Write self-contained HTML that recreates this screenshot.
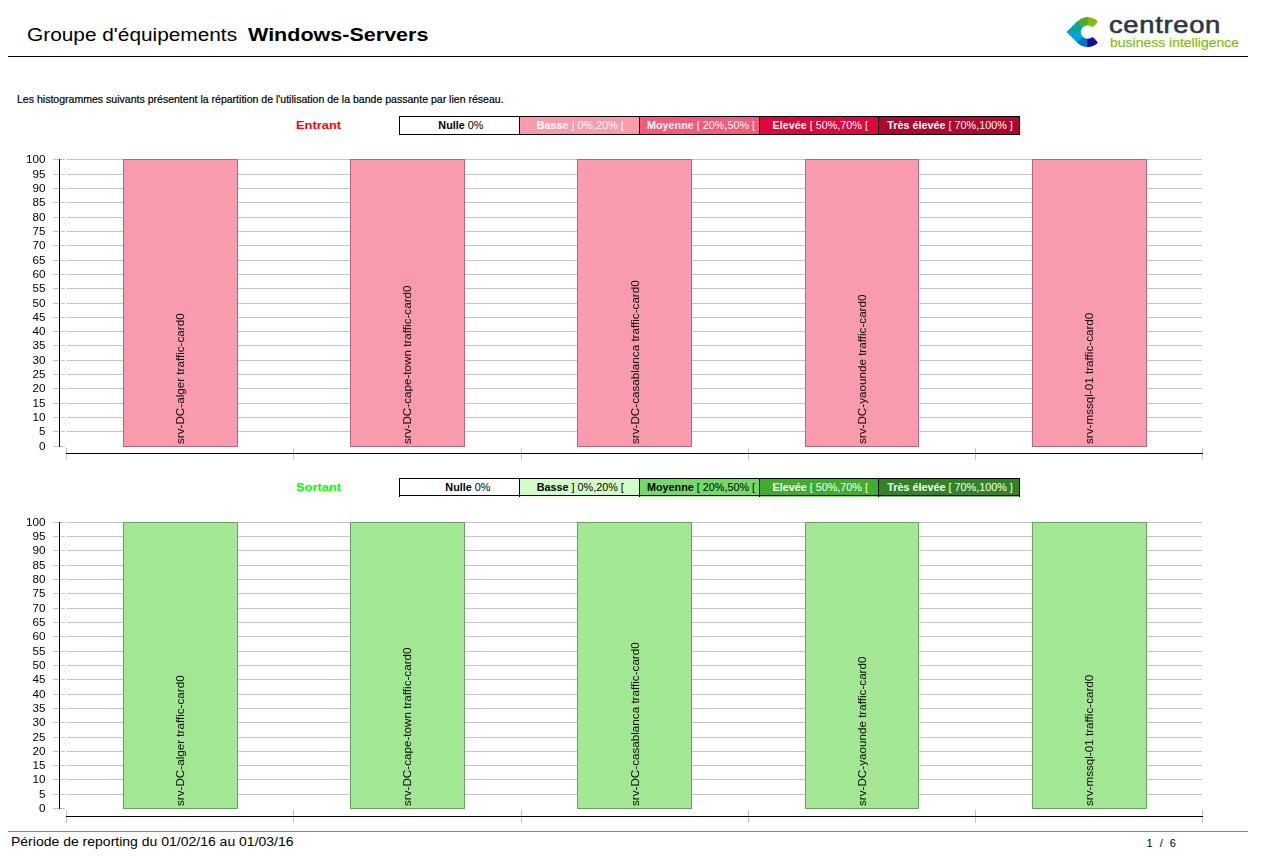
<!DOCTYPE html>
<html><head><meta charset="utf-8"><style>
html,body{margin:0;padding:0;background:#fff;}
body{width:1263px;height:863px;position:relative;overflow:hidden;font-family:"Liberation Sans", sans-serif;color:#000;}
</style></head><body>
<div style="position:absolute;left:26.5px;top:26.59px;font-size:17.5px;line-height:17.5px;font-weight:normal;color:#000;white-space:pre;transform:scaleX(1.19);transform-origin:0 0;">Groupe d'équipements</div>
<div style="position:absolute;left:248px;top:26.59px;font-size:17.5px;line-height:17.5px;font-weight:bold;color:#000;white-space:pre;transform:scaleX(1.23);transform-origin:0 0;">Windows-Servers</div>
<div style="position:absolute;left:8px;top:56px;width:1240px;height:1px;background:#000;"></div>
<svg style="position:absolute;left:0;top:0" width="1263" height="70"><path d="M1097.37,21.25 A14.6,14.6 0 0 0 1087.60,17.50 L1087.60,25.00 A7.1,7.1 0 0 1 1092.35,26.82 A11,11 0 0 0 1097.37,21.25 Z" fill="#84bd00" stroke="#84bd00" stroke-width="0.8" stroke-linejoin="round"/><path d="M1087.60,17.50 A14.6,14.6 0 0 0 1077.28,21.78 L1082.58,27.08 A7.1,7.1 0 0 1 1087.60,25.00 Z" fill="#4bae2a" stroke="#4bae2a" stroke-width="0.8" stroke-linejoin="round"/><path d="M1077.28,21.78 L1066.95,32.10 L1080.50,32.10 A7.1,7.1 0 0 1 1082.58,27.08 Z" fill="#0ea39b" stroke="#0ea39b" stroke-width="0.8" stroke-linejoin="round"/><path d="M1066.95,32.10 L1077.28,42.42 L1082.58,37.12 A7.1,7.1 0 0 1 1080.50,32.10 Z" fill="#03a2db" stroke="#03a2db" stroke-width="0.8" stroke-linejoin="round"/><path d="M1077.28,42.42 A14.6,14.6 0 0 0 1087.60,46.70 L1087.60,39.20 A7.1,7.1 0 0 1 1082.58,37.12 Z" fill="#0272cc" stroke="#0272cc" stroke-width="0.8" stroke-linejoin="round"/><path d="M1087.60,46.70 A14.6,14.6 0 0 0 1097.37,42.95 A11,11 0 0 0 1092.35,37.38 A7.1,7.1 0 0 1 1087.60,39.20 Z" fill="#160c9e" stroke="#160c9e" stroke-width="0.8" stroke-linejoin="round"/></svg>
<div style="position:absolute;left:1109.0px;top:12.95px;font-size:23.8px;line-height:23.8px;font-weight:normal;color:#2b3843;white-space:pre;transform:scaleX(1.15);transform-origin:0 0;-webkit-text-stroke:0.6px #2b3843;letter-spacing:0.6px;">centreon</div>
<div style="position:absolute;left:1109.5px;top:35.70px;font-size:13px;line-height:13px;font-weight:normal;color:#84bd00;white-space:pre;transform:scaleX(1.075);transform-origin:0 0;-webkit-text-stroke:0.15px #84bd00;">business intelligence</div>
<div style="position:absolute;left:16.6px;top:94.03px;font-size:10.6px;line-height:10.6px;font-weight:normal;color:#000;white-space:pre;transform:scaleX(0.995);transform-origin:0 0;-webkit-text-stroke:0.2px #000;">Les histogrammes suivants présentent la répartition de l'utilisation de la bande passante par lien réseau.</div>
<div style="position:absolute;left:295.5px;top:119.59px;font-size:11px;line-height:11px;font-weight:bold;color:#ff0000;white-space:pre;transform:scaleX(1.17);transform-origin:0 0;">Entrant</div>
<div style="position:absolute;left:400px;top:117px;width:119px;height:17px;background:#fff;"></div>
<div style="position:absolute;left:520px;top:117px;width:119px;height:17px;background:#f99bab;"></div>
<div style="position:absolute;left:640px;top:117px;width:119px;height:17px;background:#f45a7a;"></div>
<div style="position:absolute;left:760px;top:117px;width:118px;height:17px;background:#de063a;"></div>
<div style="position:absolute;left:879px;top:117px;width:140px;height:17px;background:#ae082e;"></div>
<div style="position:absolute;left:399px;top:116px;width:621px;height:1px;background:#000;"></div>
<div style="position:absolute;left:399px;top:134px;width:621px;height:1px;background:#000;"></div>
<div style="position:absolute;left:399px;top:116px;width:1px;height:19px;background:#000;"></div>
<div style="position:absolute;left:519px;top:116px;width:1px;height:19px;background:#000;"></div>
<div style="position:absolute;left:639px;top:116px;width:1px;height:19px;background:#000;"></div>
<div style="position:absolute;left:759px;top:116px;width:1px;height:19px;background:#000;"></div>
<div style="position:absolute;left:878px;top:116px;width:1px;height:19px;background:#000;"></div>
<div style="position:absolute;left:1019px;top:116px;width:1px;height:19px;background:#000;"></div>
<div style="position:absolute;left:400.3px;top:116px;width:121px;height:19px;line-height:19px;text-align:center;font-size:10px;color:#000;white-space:pre;"><span style="display:inline-block;transform:translateY(-0.1px) scaleX(1.08)"><b>Nulle</b> 0%</span></div>
<div style="position:absolute;left:520.3px;top:116px;width:121px;height:19px;line-height:19px;text-align:center;font-size:10px;color:#fff;white-space:pre;"><span style="display:inline-block;transform:translateY(-0.1px) scaleX(1.08)"><b>Basse</b> ] 0%,20% [</span></div>
<div style="position:absolute;left:640.3px;top:116px;width:121px;height:19px;line-height:19px;text-align:center;font-size:10px;color:#fff;white-space:pre;"><span style="display:inline-block;transform:translateY(-0.1px) scaleX(1.08)"><b>Moyenne</b> [ 20%,50% [</span></div>
<div style="position:absolute;left:760.3px;top:116px;width:120px;height:19px;line-height:19px;text-align:center;font-size:10px;color:#fff;white-space:pre;"><span style="display:inline-block;transform:translateY(-0.1px) scaleX(1.08)"><b>Elevée</b> [ 50%,70% [</span></div>
<div style="position:absolute;left:879.3px;top:116px;width:142px;height:19px;line-height:19px;text-align:center;font-size:10px;color:#fff;white-space:pre;"><span style="display:inline-block;transform:translateY(-0.1px) scaleX(1.08)"><b>Très élevée</b> [ 70%,100% ]</span></div>
<div style="position:absolute;left:53px;top:446px;width:12px;height:1px;background:#c4c4c4;"></div>
<div style="position:absolute;left:0;width:45.5px;top:439.9px;height:12px;line-height:12px;text-align:right;font-size:11px;white-space:pre;transform:scaleX(1.06);transform-origin:100% 50%;will-change:transform;">0</div>
<div style="position:absolute;left:53px;top:431px;width:12px;height:1px;background:#c4c4c4;"></div>
<div style="position:absolute;left:67px;top:431px;width:1135px;height:1px;background:#c4c4c4;"></div>
<div style="position:absolute;left:0;width:45.5px;top:424.9px;height:12px;line-height:12px;text-align:right;font-size:11px;white-space:pre;transform:scaleX(1.06);transform-origin:100% 50%;will-change:transform;">5</div>
<div style="position:absolute;left:53px;top:417px;width:12px;height:1px;background:#c4c4c4;"></div>
<div style="position:absolute;left:67px;top:417px;width:1135px;height:1px;background:#c4c4c4;"></div>
<div style="position:absolute;left:0;width:45.5px;top:410.9px;height:12px;line-height:12px;text-align:right;font-size:11px;white-space:pre;transform:scaleX(1.06);transform-origin:100% 50%;will-change:transform;">10</div>
<div style="position:absolute;left:53px;top:403px;width:12px;height:1px;background:#c4c4c4;"></div>
<div style="position:absolute;left:67px;top:403px;width:1135px;height:1px;background:#c4c4c4;"></div>
<div style="position:absolute;left:0;width:45.5px;top:396.9px;height:12px;line-height:12px;text-align:right;font-size:11px;white-space:pre;transform:scaleX(1.06);transform-origin:100% 50%;will-change:transform;">15</div>
<div style="position:absolute;left:53px;top:388px;width:12px;height:1px;background:#c4c4c4;"></div>
<div style="position:absolute;left:67px;top:388px;width:1135px;height:1px;background:#c4c4c4;"></div>
<div style="position:absolute;left:0;width:45.5px;top:381.9px;height:12px;line-height:12px;text-align:right;font-size:11px;white-space:pre;transform:scaleX(1.06);transform-origin:100% 50%;will-change:transform;">20</div>
<div style="position:absolute;left:53px;top:374px;width:12px;height:1px;background:#c4c4c4;"></div>
<div style="position:absolute;left:67px;top:374px;width:1135px;height:1px;background:#c4c4c4;"></div>
<div style="position:absolute;left:0;width:45.5px;top:367.9px;height:12px;line-height:12px;text-align:right;font-size:11px;white-space:pre;transform:scaleX(1.06);transform-origin:100% 50%;will-change:transform;">25</div>
<div style="position:absolute;left:53px;top:360px;width:12px;height:1px;background:#c4c4c4;"></div>
<div style="position:absolute;left:67px;top:360px;width:1135px;height:1px;background:#c4c4c4;"></div>
<div style="position:absolute;left:0;width:45.5px;top:353.9px;height:12px;line-height:12px;text-align:right;font-size:11px;white-space:pre;transform:scaleX(1.06);transform-origin:100% 50%;will-change:transform;">30</div>
<div style="position:absolute;left:53px;top:345px;width:12px;height:1px;background:#c4c4c4;"></div>
<div style="position:absolute;left:67px;top:345px;width:1135px;height:1px;background:#c4c4c4;"></div>
<div style="position:absolute;left:0;width:45.5px;top:338.9px;height:12px;line-height:12px;text-align:right;font-size:11px;white-space:pre;transform:scaleX(1.06);transform-origin:100% 50%;will-change:transform;">35</div>
<div style="position:absolute;left:53px;top:331px;width:12px;height:1px;background:#c4c4c4;"></div>
<div style="position:absolute;left:67px;top:331px;width:1135px;height:1px;background:#c4c4c4;"></div>
<div style="position:absolute;left:0;width:45.5px;top:324.9px;height:12px;line-height:12px;text-align:right;font-size:11px;white-space:pre;transform:scaleX(1.06);transform-origin:100% 50%;will-change:transform;">40</div>
<div style="position:absolute;left:53px;top:317px;width:12px;height:1px;background:#c4c4c4;"></div>
<div style="position:absolute;left:67px;top:317px;width:1135px;height:1px;background:#c4c4c4;"></div>
<div style="position:absolute;left:0;width:45.5px;top:310.9px;height:12px;line-height:12px;text-align:right;font-size:11px;white-space:pre;transform:scaleX(1.06);transform-origin:100% 50%;will-change:transform;">45</div>
<div style="position:absolute;left:53px;top:303px;width:12px;height:1px;background:#c4c4c4;"></div>
<div style="position:absolute;left:67px;top:303px;width:1135px;height:1px;background:#c4c4c4;"></div>
<div style="position:absolute;left:0;width:45.5px;top:296.9px;height:12px;line-height:12px;text-align:right;font-size:11px;white-space:pre;transform:scaleX(1.06);transform-origin:100% 50%;will-change:transform;">50</div>
<div style="position:absolute;left:53px;top:288px;width:12px;height:1px;background:#c4c4c4;"></div>
<div style="position:absolute;left:67px;top:288px;width:1135px;height:1px;background:#c4c4c4;"></div>
<div style="position:absolute;left:0;width:45.5px;top:281.9px;height:12px;line-height:12px;text-align:right;font-size:11px;white-space:pre;transform:scaleX(1.06);transform-origin:100% 50%;will-change:transform;">55</div>
<div style="position:absolute;left:53px;top:274px;width:12px;height:1px;background:#c4c4c4;"></div>
<div style="position:absolute;left:67px;top:274px;width:1135px;height:1px;background:#c4c4c4;"></div>
<div style="position:absolute;left:0;width:45.5px;top:267.9px;height:12px;line-height:12px;text-align:right;font-size:11px;white-space:pre;transform:scaleX(1.06);transform-origin:100% 50%;will-change:transform;">60</div>
<div style="position:absolute;left:53px;top:260px;width:12px;height:1px;background:#c4c4c4;"></div>
<div style="position:absolute;left:67px;top:260px;width:1135px;height:1px;background:#c4c4c4;"></div>
<div style="position:absolute;left:0;width:45.5px;top:253.9px;height:12px;line-height:12px;text-align:right;font-size:11px;white-space:pre;transform:scaleX(1.06);transform-origin:100% 50%;will-change:transform;">65</div>
<div style="position:absolute;left:53px;top:245px;width:12px;height:1px;background:#c4c4c4;"></div>
<div style="position:absolute;left:67px;top:245px;width:1135px;height:1px;background:#c4c4c4;"></div>
<div style="position:absolute;left:0;width:45.5px;top:238.9px;height:12px;line-height:12px;text-align:right;font-size:11px;white-space:pre;transform:scaleX(1.06);transform-origin:100% 50%;will-change:transform;">70</div>
<div style="position:absolute;left:53px;top:231px;width:12px;height:1px;background:#c4c4c4;"></div>
<div style="position:absolute;left:67px;top:231px;width:1135px;height:1px;background:#c4c4c4;"></div>
<div style="position:absolute;left:0;width:45.5px;top:224.9px;height:12px;line-height:12px;text-align:right;font-size:11px;white-space:pre;transform:scaleX(1.06);transform-origin:100% 50%;will-change:transform;">75</div>
<div style="position:absolute;left:53px;top:217px;width:12px;height:1px;background:#c4c4c4;"></div>
<div style="position:absolute;left:67px;top:217px;width:1135px;height:1px;background:#c4c4c4;"></div>
<div style="position:absolute;left:0;width:45.5px;top:210.9px;height:12px;line-height:12px;text-align:right;font-size:11px;white-space:pre;transform:scaleX(1.06);transform-origin:100% 50%;will-change:transform;">80</div>
<div style="position:absolute;left:53px;top:202px;width:12px;height:1px;background:#c4c4c4;"></div>
<div style="position:absolute;left:67px;top:202px;width:1135px;height:1px;background:#c4c4c4;"></div>
<div style="position:absolute;left:0;width:45.5px;top:195.9px;height:12px;line-height:12px;text-align:right;font-size:11px;white-space:pre;transform:scaleX(1.06);transform-origin:100% 50%;will-change:transform;">85</div>
<div style="position:absolute;left:53px;top:188px;width:12px;height:1px;background:#c4c4c4;"></div>
<div style="position:absolute;left:67px;top:188px;width:1135px;height:1px;background:#c4c4c4;"></div>
<div style="position:absolute;left:0;width:45.5px;top:181.9px;height:12px;line-height:12px;text-align:right;font-size:11px;white-space:pre;transform:scaleX(1.06);transform-origin:100% 50%;will-change:transform;">90</div>
<div style="position:absolute;left:53px;top:174px;width:12px;height:1px;background:#c4c4c4;"></div>
<div style="position:absolute;left:67px;top:174px;width:1135px;height:1px;background:#c4c4c4;"></div>
<div style="position:absolute;left:0;width:45.5px;top:167.9px;height:12px;line-height:12px;text-align:right;font-size:11px;white-space:pre;transform:scaleX(1.06);transform-origin:100% 50%;will-change:transform;">95</div>
<div style="position:absolute;left:53px;top:159px;width:12px;height:1px;background:#c4c4c4;"></div>
<div style="position:absolute;left:67px;top:159px;width:1135px;height:1px;background:#c4c4c4;"></div>
<div style="position:absolute;left:0;width:45.5px;top:152.9px;height:12px;line-height:12px;text-align:right;font-size:11px;white-space:pre;transform:scaleX(1.06);transform-origin:100% 50%;will-change:transform;">100</div>
<div style="position:absolute;left:59px;top:159px;width:1px;height:288px;background:#000;"></div>
<div style="position:absolute;left:66px;top:453px;width:1137px;height:1px;background:#000;"></div>
<div style="position:absolute;left:66px;top:448px;width:1px;height:12px;background:#c4c4c4;"></div>
<div style="position:absolute;left:293px;top:448px;width:1px;height:12px;background:#c4c4c4;"></div>
<div style="position:absolute;left:521px;top:448px;width:1px;height:12px;background:#c4c4c4;"></div>
<div style="position:absolute;left:748px;top:448px;width:1px;height:12px;background:#c4c4c4;"></div>
<div style="position:absolute;left:975px;top:448px;width:1px;height:12px;background:#c4c4c4;"></div>
<div style="position:absolute;left:1202px;top:448px;width:1px;height:12px;background:#c4c4c4;"></div>
<div style="position:absolute;left:66px;top:453px;width:1137px;height:1px;background:#000;"></div>
<div style="position:absolute;left:123px;top:159px;width:113px;height:286px;background:#f99baf;border:1px solid #b06a7a;"></div>
<div style="position:absolute;left:185.1px;top:443.8px;font-size:11px;line-height:11px;white-space:pre;will-change:transform;transform-origin:0 0;transform:rotate(-90deg) scaleX(1.06) translateY(-9.95px);">srv-DC-alger traffic-card0</div>
<div style="position:absolute;left:350px;top:159px;width:113px;height:286px;background:#f99baf;border:1px solid #b06a7a;"></div>
<div style="position:absolute;left:412.3px;top:443.8px;font-size:11px;line-height:11px;white-space:pre;will-change:transform;transform-origin:0 0;transform:rotate(-90deg) scaleX(1.06) translateY(-9.95px);">srv-DC-cape-town traffic-card0</div>
<div style="position:absolute;left:577px;top:159px;width:113px;height:286px;background:#f99baf;border:1px solid #b06a7a;"></div>
<div style="position:absolute;left:639.5px;top:443.8px;font-size:11px;line-height:11px;white-space:pre;will-change:transform;transform-origin:0 0;transform:rotate(-90deg) scaleX(1.06) translateY(-9.95px);">srv-DC-casablanca traffic-card0</div>
<div style="position:absolute;left:805px;top:159px;width:112px;height:286px;background:#f99baf;border:1px solid #b06a7a;"></div>
<div style="position:absolute;left:866.7px;top:443.8px;font-size:11px;line-height:11px;white-space:pre;will-change:transform;transform-origin:0 0;transform:rotate(-90deg) scaleX(1.06) translateY(-9.95px);">srv-DC-yaounde traffic-card0</div>
<div style="position:absolute;left:1032px;top:159px;width:113px;height:286px;background:#f99baf;border:1px solid #b06a7a;"></div>
<div style="position:absolute;left:1093.9px;top:443.8px;font-size:11px;line-height:11px;white-space:pre;will-change:transform;transform-origin:0 0;transform:rotate(-90deg) scaleX(1.06) translateY(-9.95px);">srv-mssql-01 traffic-card0</div>
<div style="position:absolute;left:295.5px;top:481.59px;font-size:11px;line-height:11px;font-weight:bold;color:#00ff00;white-space:pre;transform:scaleX(1.17);transform-origin:0 0;">Sortant</div>
<div style="position:absolute;left:400px;top:479px;width:119px;height:16px;background:#fff;"></div>
<div style="position:absolute;left:520px;top:479px;width:119px;height:16px;background:#d2fbc8;"></div>
<div style="position:absolute;left:640px;top:479px;width:119px;height:16px;background:#73db65;"></div>
<div style="position:absolute;left:760px;top:479px;width:118px;height:16px;background:#40ae2a;"></div>
<div style="position:absolute;left:879px;top:479px;width:140px;height:16px;background:#2f8523;"></div>
<div style="position:absolute;left:400px;top:496px;width:119px;height:1px;background:#fff;opacity:0.55;"></div>
<div style="position:absolute;left:520px;top:496px;width:119px;height:1px;background:#d2fbc8;opacity:0.55;"></div>
<div style="position:absolute;left:640px;top:496px;width:119px;height:1px;background:#73db65;opacity:0.55;"></div>
<div style="position:absolute;left:760px;top:496px;width:118px;height:1px;background:#40ae2a;opacity:0.55;"></div>
<div style="position:absolute;left:879px;top:496px;width:140px;height:1px;background:#2f8523;opacity:0.55;"></div>
<div style="position:absolute;left:399px;top:478px;width:621px;height:1px;background:#000;"></div>
<div style="position:absolute;left:399px;top:495px;width:621px;height:1px;background:#000;"></div>
<div style="position:absolute;left:399px;top:478px;width:1px;height:19px;background:#000;"></div>
<div style="position:absolute;left:519px;top:478px;width:1px;height:19px;background:#000;"></div>
<div style="position:absolute;left:639px;top:478px;width:1px;height:19px;background:#000;"></div>
<div style="position:absolute;left:759px;top:478px;width:1px;height:19px;background:#000;"></div>
<div style="position:absolute;left:878px;top:478px;width:1px;height:19px;background:#000;"></div>
<div style="position:absolute;left:1019px;top:478px;width:1px;height:19px;background:#000;"></div>
<div style="position:absolute;left:407.3px;top:478px;width:121px;height:19px;line-height:19px;text-align:center;font-size:10px;color:#000;white-space:pre;"><span style="display:inline-block;transform:translateY(-0.1px) scaleX(1.08)"><b>Nulle</b> 0%</span></div>
<div style="position:absolute;left:520.3px;top:478px;width:121px;height:19px;line-height:19px;text-align:center;font-size:10px;color:#000;white-space:pre;"><span style="display:inline-block;transform:translateY(-0.1px) scaleX(1.08)"><b>Basse</b> ] 0%,20% [</span></div>
<div style="position:absolute;left:640.3px;top:478px;width:121px;height:19px;line-height:19px;text-align:center;font-size:10px;color:#000;white-space:pre;"><span style="display:inline-block;transform:translateY(-0.1px) scaleX(1.08)"><b>Moyenne</b> [ 20%,50% [</span></div>
<div style="position:absolute;left:760.3px;top:478px;width:120px;height:19px;line-height:19px;text-align:center;font-size:10px;color:#fff;white-space:pre;"><span style="display:inline-block;transform:translateY(-0.1px) scaleX(1.08)"><b>Elevée</b> [ 50%,70% [</span></div>
<div style="position:absolute;left:879.3px;top:478px;width:142px;height:19px;line-height:19px;text-align:center;font-size:10px;color:#fff;white-space:pre;"><span style="display:inline-block;transform:translateY(-0.1px) scaleX(1.08)"><b>Très élevée</b> [ 70%,100% ]</span></div>
<div style="position:absolute;left:53px;top:808px;width:12px;height:1px;background:#c4c4c4;"></div>
<div style="position:absolute;left:0;width:45.5px;top:801.9px;height:12px;line-height:12px;text-align:right;font-size:11px;white-space:pre;transform:scaleX(1.06);transform-origin:100% 50%;will-change:transform;">0</div>
<div style="position:absolute;left:53px;top:794px;width:12px;height:1px;background:#c4c4c4;"></div>
<div style="position:absolute;left:67px;top:794px;width:1135px;height:1px;background:#c4c4c4;"></div>
<div style="position:absolute;left:0;width:45.5px;top:787.9px;height:12px;line-height:12px;text-align:right;font-size:11px;white-space:pre;transform:scaleX(1.06);transform-origin:100% 50%;will-change:transform;">5</div>
<div style="position:absolute;left:53px;top:779px;width:12px;height:1px;background:#c4c4c4;"></div>
<div style="position:absolute;left:67px;top:779px;width:1135px;height:1px;background:#c4c4c4;"></div>
<div style="position:absolute;left:0;width:45.5px;top:772.9px;height:12px;line-height:12px;text-align:right;font-size:11px;white-space:pre;transform:scaleX(1.06);transform-origin:100% 50%;will-change:transform;">10</div>
<div style="position:absolute;left:53px;top:765px;width:12px;height:1px;background:#c4c4c4;"></div>
<div style="position:absolute;left:67px;top:765px;width:1135px;height:1px;background:#c4c4c4;"></div>
<div style="position:absolute;left:0;width:45.5px;top:758.9px;height:12px;line-height:12px;text-align:right;font-size:11px;white-space:pre;transform:scaleX(1.06);transform-origin:100% 50%;will-change:transform;">15</div>
<div style="position:absolute;left:53px;top:751px;width:12px;height:1px;background:#c4c4c4;"></div>
<div style="position:absolute;left:67px;top:751px;width:1135px;height:1px;background:#c4c4c4;"></div>
<div style="position:absolute;left:0;width:45.5px;top:744.9px;height:12px;line-height:12px;text-align:right;font-size:11px;white-space:pre;transform:scaleX(1.06);transform-origin:100% 50%;will-change:transform;">20</div>
<div style="position:absolute;left:53px;top:737px;width:12px;height:1px;background:#c4c4c4;"></div>
<div style="position:absolute;left:67px;top:737px;width:1135px;height:1px;background:#c4c4c4;"></div>
<div style="position:absolute;left:0;width:45.5px;top:730.9px;height:12px;line-height:12px;text-align:right;font-size:11px;white-space:pre;transform:scaleX(1.06);transform-origin:100% 50%;will-change:transform;">25</div>
<div style="position:absolute;left:53px;top:722px;width:12px;height:1px;background:#c4c4c4;"></div>
<div style="position:absolute;left:67px;top:722px;width:1135px;height:1px;background:#c4c4c4;"></div>
<div style="position:absolute;left:0;width:45.5px;top:715.9px;height:12px;line-height:12px;text-align:right;font-size:11px;white-space:pre;transform:scaleX(1.06);transform-origin:100% 50%;will-change:transform;">30</div>
<div style="position:absolute;left:53px;top:708px;width:12px;height:1px;background:#c4c4c4;"></div>
<div style="position:absolute;left:67px;top:708px;width:1135px;height:1px;background:#c4c4c4;"></div>
<div style="position:absolute;left:0;width:45.5px;top:701.9px;height:12px;line-height:12px;text-align:right;font-size:11px;white-space:pre;transform:scaleX(1.06);transform-origin:100% 50%;will-change:transform;">35</div>
<div style="position:absolute;left:53px;top:694px;width:12px;height:1px;background:#c4c4c4;"></div>
<div style="position:absolute;left:67px;top:694px;width:1135px;height:1px;background:#c4c4c4;"></div>
<div style="position:absolute;left:0;width:45.5px;top:687.9px;height:12px;line-height:12px;text-align:right;font-size:11px;white-space:pre;transform:scaleX(1.06);transform-origin:100% 50%;will-change:transform;">40</div>
<div style="position:absolute;left:53px;top:679px;width:12px;height:1px;background:#c4c4c4;"></div>
<div style="position:absolute;left:67px;top:679px;width:1135px;height:1px;background:#c4c4c4;"></div>
<div style="position:absolute;left:0;width:45.5px;top:672.9px;height:12px;line-height:12px;text-align:right;font-size:11px;white-space:pre;transform:scaleX(1.06);transform-origin:100% 50%;will-change:transform;">45</div>
<div style="position:absolute;left:53px;top:665px;width:12px;height:1px;background:#c4c4c4;"></div>
<div style="position:absolute;left:67px;top:665px;width:1135px;height:1px;background:#c4c4c4;"></div>
<div style="position:absolute;left:0;width:45.5px;top:658.9px;height:12px;line-height:12px;text-align:right;font-size:11px;white-space:pre;transform:scaleX(1.06);transform-origin:100% 50%;will-change:transform;">50</div>
<div style="position:absolute;left:53px;top:651px;width:12px;height:1px;background:#c4c4c4;"></div>
<div style="position:absolute;left:67px;top:651px;width:1135px;height:1px;background:#c4c4c4;"></div>
<div style="position:absolute;left:0;width:45.5px;top:644.9px;height:12px;line-height:12px;text-align:right;font-size:11px;white-space:pre;transform:scaleX(1.06);transform-origin:100% 50%;will-change:transform;">55</div>
<div style="position:absolute;left:53px;top:636px;width:12px;height:1px;background:#c4c4c4;"></div>
<div style="position:absolute;left:67px;top:636px;width:1135px;height:1px;background:#c4c4c4;"></div>
<div style="position:absolute;left:0;width:45.5px;top:629.9px;height:12px;line-height:12px;text-align:right;font-size:11px;white-space:pre;transform:scaleX(1.06);transform-origin:100% 50%;will-change:transform;">60</div>
<div style="position:absolute;left:53px;top:622px;width:12px;height:1px;background:#c4c4c4;"></div>
<div style="position:absolute;left:67px;top:622px;width:1135px;height:1px;background:#c4c4c4;"></div>
<div style="position:absolute;left:0;width:45.5px;top:615.9px;height:12px;line-height:12px;text-align:right;font-size:11px;white-space:pre;transform:scaleX(1.06);transform-origin:100% 50%;will-change:transform;">65</div>
<div style="position:absolute;left:53px;top:608px;width:12px;height:1px;background:#c4c4c4;"></div>
<div style="position:absolute;left:67px;top:608px;width:1135px;height:1px;background:#c4c4c4;"></div>
<div style="position:absolute;left:0;width:45.5px;top:601.9px;height:12px;line-height:12px;text-align:right;font-size:11px;white-space:pre;transform:scaleX(1.06);transform-origin:100% 50%;will-change:transform;">70</div>
<div style="position:absolute;left:53px;top:593px;width:12px;height:1px;background:#c4c4c4;"></div>
<div style="position:absolute;left:67px;top:593px;width:1135px;height:1px;background:#c4c4c4;"></div>
<div style="position:absolute;left:0;width:45.5px;top:586.9px;height:12px;line-height:12px;text-align:right;font-size:11px;white-space:pre;transform:scaleX(1.06);transform-origin:100% 50%;will-change:transform;">75</div>
<div style="position:absolute;left:53px;top:579px;width:12px;height:1px;background:#c4c4c4;"></div>
<div style="position:absolute;left:67px;top:579px;width:1135px;height:1px;background:#c4c4c4;"></div>
<div style="position:absolute;left:0;width:45.5px;top:572.9px;height:12px;line-height:12px;text-align:right;font-size:11px;white-space:pre;transform:scaleX(1.06);transform-origin:100% 50%;will-change:transform;">80</div>
<div style="position:absolute;left:53px;top:565px;width:12px;height:1px;background:#c4c4c4;"></div>
<div style="position:absolute;left:67px;top:565px;width:1135px;height:1px;background:#c4c4c4;"></div>
<div style="position:absolute;left:0;width:45.5px;top:558.9px;height:12px;line-height:12px;text-align:right;font-size:11px;white-space:pre;transform:scaleX(1.06);transform-origin:100% 50%;will-change:transform;">85</div>
<div style="position:absolute;left:53px;top:550px;width:12px;height:1px;background:#c4c4c4;"></div>
<div style="position:absolute;left:67px;top:550px;width:1135px;height:1px;background:#c4c4c4;"></div>
<div style="position:absolute;left:0;width:45.5px;top:543.9px;height:12px;line-height:12px;text-align:right;font-size:11px;white-space:pre;transform:scaleX(1.06);transform-origin:100% 50%;will-change:transform;">90</div>
<div style="position:absolute;left:53px;top:536px;width:12px;height:1px;background:#c4c4c4;"></div>
<div style="position:absolute;left:67px;top:536px;width:1135px;height:1px;background:#c4c4c4;"></div>
<div style="position:absolute;left:0;width:45.5px;top:529.9px;height:12px;line-height:12px;text-align:right;font-size:11px;white-space:pre;transform:scaleX(1.06);transform-origin:100% 50%;will-change:transform;">95</div>
<div style="position:absolute;left:53px;top:522px;width:12px;height:1px;background:#c4c4c4;"></div>
<div style="position:absolute;left:67px;top:522px;width:1135px;height:1px;background:#c4c4c4;"></div>
<div style="position:absolute;left:0;width:45.5px;top:515.9px;height:12px;line-height:12px;text-align:right;font-size:11px;white-space:pre;transform:scaleX(1.06);transform-origin:100% 50%;will-change:transform;">100</div>
<div style="position:absolute;left:59px;top:522px;width:1px;height:287px;background:#000;"></div>
<div style="position:absolute;left:66px;top:816px;width:1137px;height:1px;background:#000;"></div>
<div style="position:absolute;left:66px;top:810px;width:1px;height:13px;background:#c4c4c4;"></div>
<div style="position:absolute;left:293px;top:810px;width:1px;height:13px;background:#c4c4c4;"></div>
<div style="position:absolute;left:521px;top:810px;width:1px;height:13px;background:#c4c4c4;"></div>
<div style="position:absolute;left:748px;top:810px;width:1px;height:13px;background:#c4c4c4;"></div>
<div style="position:absolute;left:975px;top:810px;width:1px;height:13px;background:#c4c4c4;"></div>
<div style="position:absolute;left:1202px;top:810px;width:1px;height:13px;background:#c4c4c4;"></div>
<div style="position:absolute;left:66px;top:816px;width:1137px;height:1px;background:#000;"></div>
<div style="position:absolute;left:123px;top:522px;width:113px;height:285px;background:#a3e694;border:1px solid #6aa062;"></div>
<div style="position:absolute;left:185.1px;top:805.8px;font-size:11px;line-height:11px;white-space:pre;will-change:transform;transform-origin:0 0;transform:rotate(-90deg) scaleX(1.06) translateY(-9.95px);">srv-DC-alger traffic-card0</div>
<div style="position:absolute;left:350px;top:522px;width:113px;height:285px;background:#a3e694;border:1px solid #6aa062;"></div>
<div style="position:absolute;left:412.3px;top:805.8px;font-size:11px;line-height:11px;white-space:pre;will-change:transform;transform-origin:0 0;transform:rotate(-90deg) scaleX(1.06) translateY(-9.95px);">srv-DC-cape-town traffic-card0</div>
<div style="position:absolute;left:577px;top:522px;width:113px;height:285px;background:#a3e694;border:1px solid #6aa062;"></div>
<div style="position:absolute;left:639.5px;top:805.8px;font-size:11px;line-height:11px;white-space:pre;will-change:transform;transform-origin:0 0;transform:rotate(-90deg) scaleX(1.06) translateY(-9.95px);">srv-DC-casablanca traffic-card0</div>
<div style="position:absolute;left:805px;top:522px;width:112px;height:285px;background:#a3e694;border:1px solid #6aa062;"></div>
<div style="position:absolute;left:866.7px;top:805.8px;font-size:11px;line-height:11px;white-space:pre;will-change:transform;transform-origin:0 0;transform:rotate(-90deg) scaleX(1.06) translateY(-9.95px);">srv-DC-yaounde traffic-card0</div>
<div style="position:absolute;left:1032px;top:522px;width:113px;height:285px;background:#a3e694;border:1px solid #6aa062;"></div>
<div style="position:absolute;left:1093.9px;top:805.8px;font-size:11px;line-height:11px;white-space:pre;will-change:transform;transform-origin:0 0;transform:rotate(-90deg) scaleX(1.06) translateY(-9.95px);">srv-mssql-01 traffic-card0</div>
<div style="position:absolute;left:8px;top:831px;width:1240px;height:1px;background:#888;"></div>
<div style="position:absolute;left:11.3px;top:836.42px;font-size:12.5px;line-height:12.5px;font-weight:normal;color:#000;white-space:pre;transform:scaleX(1.12);transform-origin:0 0;">Période de reporting du 01/02/16 au 01/03/16</div>
<div style="position:absolute;left:1146.5px;top:837.69px;font-size:11px;line-height:11px;font-weight:normal;color:#000;white-space:pre;transform:scaleX(1.0);transform-origin:0 0;letter-spacing:2px;">1 / 6</div>
</body></html>
